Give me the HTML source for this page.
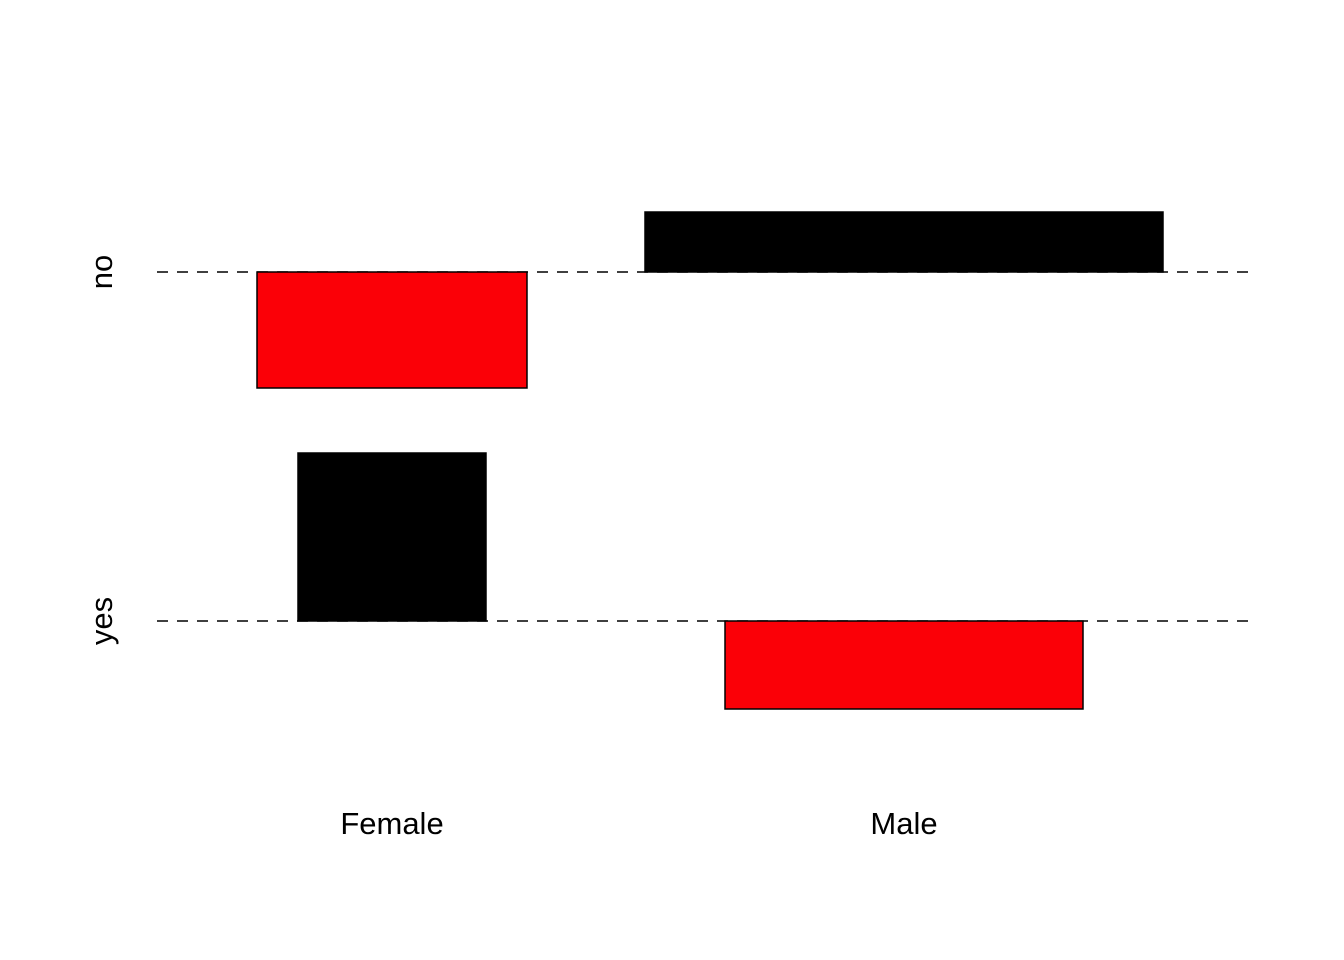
<!DOCTYPE html>
<html><head><meta charset="utf-8"><style>
html,body{margin:0;padding:0;background:#fff;}
svg{display:block;font-family:"Liberation Sans",Arial,sans-serif;}
</style></head><body>
<svg id="chart" width="1344" height="960" viewBox="0 0 1344 960">
<g id="lines"></g><g id="bars"></g><g id="labels"></g>
</svg>
<script>
const colCategories = ["Female", "Male"];
const rowCategories = ["no", "yes"];
// Pearson residuals: rows = [no, yes], columns = [Female, Male]
const residuals = [[-1.16, 0.60], [1.68, -0.88]];
// sqrt(expected) widths
const widths = [[2.70, 5.18], [1.88, 3.58]];

const NS = "http://www.w3.org/2000/svg";
const unit = 100;
const colX = c => 392 + c * 512;
const rowY = r => 272 + r * 349;
const lines = document.getElementById('lines');
const bars = document.getElementById('bars');
const labels = document.getElementById('labels');
function mk(tag, attrs){const e=document.createElementNS(NS,tag);for(const k in attrs)e.setAttribute(k,attrs[k]);return e;}

rowCategories.forEach((r, ri) => {
  const l = mk('line',{x1:157,x2:1257,y1:rowY(ri),y2:rowY(ri),stroke:'#000','stroke-width':1.5,'stroke-dasharray':'11,9'});
  
  
  lines.appendChild(l);
  const t = mk('text',{x:0,y:0,'font-size':31,'text-anchor':'middle',transform:`translate(112,${rowY(ri)}) rotate(-90)`});
  t.textContent = r;
  
  
  labels.appendChild(t);
  colCategories.forEach((c, ci) => {
    const res = residuals[ri][ci], w = widths[ri][ci] * unit, h = Math.abs(res) * unit;
    const y = res > 0 ? rowY(ri) - h : rowY(ri);
    const rect = mk('rect',{x:colX(ci)-w/2,y:y,width:w,height:h,fill:res>0?'#000':'#fb0007',stroke:'#000','stroke-width':1.5});
    
    
    bars.appendChild(rect);
  });
});
colCategories.forEach((c, ci) => {
  const t = mk('text',{x:colX(ci),y:834,'font-size':31,'text-anchor':'middle'});
  t.textContent = c;
  
  
  labels.appendChild(t);
});
</script>
</body></html>
